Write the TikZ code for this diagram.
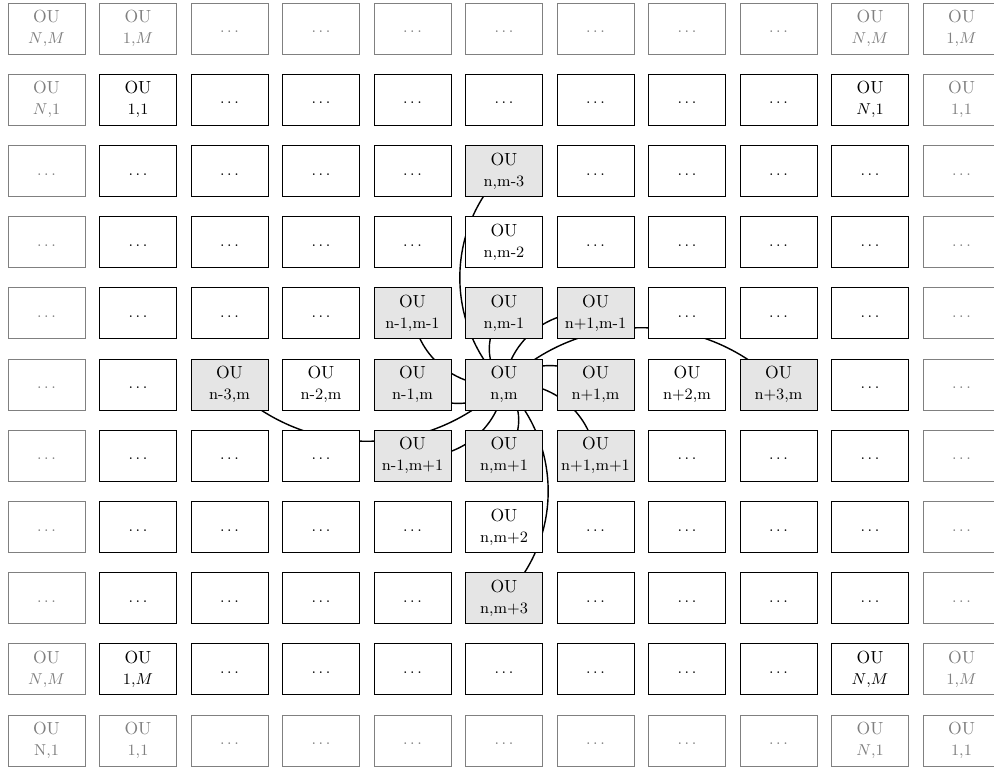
\documentclass[tikz,border=0pt]{standalone}
\usepackage{tikz}
\usetikzlibrary{backgrounds}

\newcommand{\oudots}{\strut{\small$\dots$}}

\begin{document}
\begin{tikzpicture}[
    x=1.83cm, y=1.424cm,
    ou/.style={draw, fill=white, minimum width=1.54cm, minimum height=1.02cm, align=center, inner sep=1pt, line width=0.5pt},
    hub/.style={ou, fill=gray!20},
    rim/.style={ou, draw=gray, text=gray},
    link/.style={thick, bend left=45},
]
\useasboundingbox (-0.93cm,0.57cm) rectangle (18.95cm,-14.77cm);

% Outer ring (grey copies)
\foreach \c in {2,...,8} {
    \node[rim] (top-\c) at (\c,0) {\oudots};
    \node[rim] (bot-\c) at (\c,-10) {\oudots};
}
\foreach \r in {2,...,8} {
    \node[rim] (left-\r) at (0,-\r) {\oudots};
    \node[rim] (right-\r) at (10,-\r) {\oudots};
}
\node[rim] (tl1) at (0,0) {OU\\{\small $N$,$M$}};
\node[rim] (tl2) at (1,0) {OU\\{\small 1,$M$}};
\node[rim] (tr1) at (9,0) {OU\\{\small $N$,$M$}};
\node[rim] (tr2) at (10,0) {OU\\{\small 1,$M$}};
\node[rim] (lt) at (0,-1) {OU\\{\small $N$,1}};
\node[rim] (rt) at (10,-1) {OU\\{\small 1,1}};
\node[rim] (lb) at (0,-9) {OU\\{\small $N$,$M$}};
\node[rim] (rb) at (10,-9) {OU\\{\small 1,$M$}};
\node[rim] (bl1) at (0,-10) {OU\\{\small N,1}};
\node[rim] (bl2) at (1,-10) {OU\\{\small 1,1}};
\node[rim] (br1) at (9,-10) {OU\\{\small $N$,1}};
\node[rim] (br2) at (10,-10) {OU\\{\small 1,1}};

% Inner grid
\node[ou] (first) at (1,-1) {OU\\{\small 1,1}};
\node[ou] (lastcol) at (9,-1) {OU\\{\small $N$,1}};
\node[ou] (lastrow) at (1,-9) {OU\\{\small 1,$M$}};
\node[ou] (last) at (9,-9) {OU\\{\small $N$,$M$}};
\foreach \r/\cols in {1/{2,...,8}, 2/{1,2,3,4,6,7,8,9}, 3/{1,2,3,4,6,7,8,9}, 4/{1,2,3,7,8,9},
                      5/{1,9}, 6/{1,2,3,7,8,9}, 7/{1,2,3,4,6,7,8,9}, 8/{1,2,3,4,6,7,8,9}, 9/{2,...,8}}
    \foreach \c in \cols
        \node[ou] (dot-\r-\c) at (\c,-\r) {\oudots};

% Neighbourhood of OU n,m
\node[hub] (north3) at (5,-2) {OU\\{\small n,m-3}};
\node[ou]  (north2) at (5,-3) {OU\\{\small n,m-2}};
\node[hub] (nw)     at (4,-4) {OU\\{\small n-1,m-1}};
\node[hub] (north1) at (5,-4) {OU\\{\small n,m-1}};
\node[hub] (ne)     at (6,-4) {OU\\{\small n+1,m-1}};
\node[hub] (west3)  at (2,-5) {OU\\{\small n-3,m}};
\node[ou]  (west2)  at (3,-5) {OU\\{\small n-2,m}};
\node[hub] (west1)  at (4,-5) {OU\\{\small n-1,m}};
\node[hub] (center) at (5,-5) {OU\\{\small n,m}};
\node[hub] (east1)  at (6,-5) {OU\\{\small n+1,m}};
\node[ou]  (east2)  at (7,-5) {OU\\{\small n+2,m}};
\node[hub] (east3)  at (8,-5) {OU\\{\small n+3,m}};
\node[hub] (sw)     at (4,-6) {OU\\{\small n-1,m+1}};
\node[hub] (south1) at (5,-6) {OU\\{\small n,m+1}};
\node[hub] (se)     at (6,-6) {OU\\{\small n+1,m+1}};
\node[ou]  (south2) at (5,-7) {OU\\{\small n,m+2}};
\node[hub] (south3) at (5,-8) {OU\\{\small n,m+3}};

% Links (behind the boxes)
\begin{scope}[on background layer]
\foreach \t in {nw,north1,ne,west1,east1,sw,south1,se,north3,west3,east3,south3}
    \draw[link] (center.center) to (\t.center);
\end{scope}

\end{tikzpicture}
\end{document}
